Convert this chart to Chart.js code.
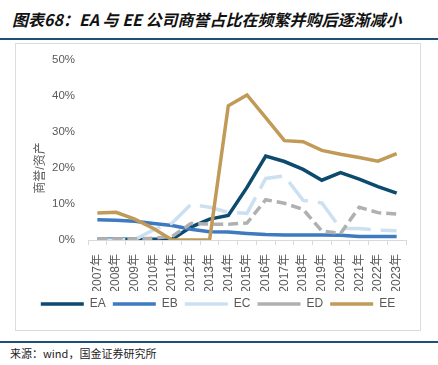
<!DOCTYPE html>
<html>
<head>
<meta charset="utf-8">
<script src="https://cdn.jsdelivr.net/npm/chart.js@4/dist/chart.umd.min.js"></script>
<style>
  body { margin: 0; width: 438px; height: 365px; background: #fff; position: relative; overflow: hidden; }
  #title { position: absolute; left: 12px; top: 7px; font: italic bold 16px "Noto Sans CJK SC", sans-serif; color: #111; white-space: nowrap; }
  .rule { position: absolute; left: 0; width: 438px; height: 1.5px; background: #1d4f7a; }
  #box { position: absolute; left: 15px; top: 43px; width: 404px; height: 286px; border: 1px solid #dcdcdc; }
  #src { position: absolute; left: 10px; top: 345px; font: 11px "Noto Sans CJK SC", monospace; color: #222; }
</style>
</head>
<body>
<div id="title">图表68：EA 与 EE 公司商誉占比在频繁并购后逐渐减小</div>
<div class="rule" style="top:38px"></div>
<div id="box"><canvas id="c" width="404" height="286"></canvas></div>
<div class="rule" style="top:341px"></div>
<div id="src">来源：wind，国金证券研究所</div>
<script>
const years = ["2007年", "2008年", "2009年", "2010年", "2011年", "2012年", "2013年", "2014年", "2015年",
  "2016年", "2017年", "2018年", "2019年", "2020年", "2021年", "2022年", "2023年"];
const yTicks = [0, 10, 20, 30, 40, 50];

const ea = [0.2, 0.2, 0.2, 0.2, 0.2, 3.6, 5.8, 6.8, 14.6, 23.3, 21.8, 19.6, 16.6, 18.7, 16.9, 14.8, 13.0];
const eb = [5.6, 5.5, 5.2, 4.6, 4.0, 3.0, 2.3, 2.2, 1.8, 1.5, 1.4, 1.4, 1.4, 1.3, 1.0, 1.0, 1.0];
const ec = [0, 0, 0.1, 2.8, 4.7, 9.9, 9.1, 7.7, 7.4, 17.1, 17.8, 11.0, 10.3, 3.2, 3.2, 2.7, 2.6];
const ed = [0.3, 0.3, 0.3, 0.5, 1.0, 4.6, 4.4, 4.4, 4.7, 11.2, 10.2, 8.5, 2.5, 1.8, 9.1, 7.6, 7.2];
const ee = [7.5, 7.7, 5.8, 3.2, 0, 0, 0, 37.3, 40.3, 34.0, 27.6, 27.3, 24.9, 23.8, 22.9, 21.9, 24.0];

const gray = "#595959";
const font = "'Liberation Sans', 'Noto Sans CJK SC', sans-serif";

function line(label, data, color, dash, order) {
  return {
    label: label, data: data, borderColor: color, backgroundColor: color,
    borderWidth: 3.5, borderDash: dash, pointRadius: 0, pointStyle: "line",
    tension: 0, order: order, borderCapStyle: "butt"
  };
}

const yTitle = {
  id: "yTitle",
  afterDraw(chart) {
    const a = chart.chartArea;
    const ctx = chart.ctx;
    ctx.save();
    ctx.translate(25, a.top + (a.bottom - a.top) * 0.6);
    ctx.rotate(-Math.PI / 2);
    ctx.fillStyle = gray;
    ctx.font = "12px " + font;
    ctx.textAlign = "center";
    ctx.textBaseline = "middle";
    ctx.fillText("商誉/资产", 0, 0);
    ctx.restore();
  }
};

new Chart(document.getElementById("c"), {
  type: "line",
  data: {
    labels: years,
    datasets: [
      line("EA", ea, "#0c4a6e", [], 5),
      line("EB", eb, "#3d7ac0", [], 4),
      line("EC", ec, "#cde0f2", [28, 10], 3),
      line("ED", ed, "#b0b0b0", [10, 5], 2),
      line("EE", ee, "#c09a56", [], 1)
    ]
  },
  options: {
    responsive: false,
    animation: false,
    layout: { padding: { left: 0, right: 0, top: 16, bottom: 10 } },
    plugins: {
      legend: {
        position: "bottom",
        labels: {
          usePointStyle: true, pointStyle: "line", pointStyleWidth: 43,
          boxHeight: 12, padding: 7, color: gray,
          font: { family: font, size: 12 },
          sort: (a, b) => a.datasetIndex - b.datasetIndex
        }
      },
      tooltip: { enabled: false }
    },
    scales: {
      x: {
        offset: true,
        grid: { display: true, drawOnChartArea: false, drawTicks: true, tickLength: 5, color: "#d9d9d9", offset: true },
        border: { display: true, color: "#d9d9d9", width: 1 },
        ticks: { minRotation: 90, maxRotation: 90, padding: 9, color: gray, font: { family: font, size: 12 }, autoSkip: false },
        afterFit(s) { s.height = 51; s.paddingLeft = 0; s.paddingRight = 14; }
      },
      y: {
        min: 0, max: 50,
        grid: { display: false, drawTicks: false },
        border: { display: false },
        afterBuildTicks(s) { s.ticks = yTicks.map(v => ({ value: v })); },
        ticks: { padding: 13, color: gray, font: { family: font, size: 11.5 }, callback: v => v + "%" },
        afterFit(s) { s.width = 72; s.paddingTop = 0; s.paddingBottom = 0; }
      }
    }
  },
  plugins: [yTitle]
});
</script>
</body>
</html>
